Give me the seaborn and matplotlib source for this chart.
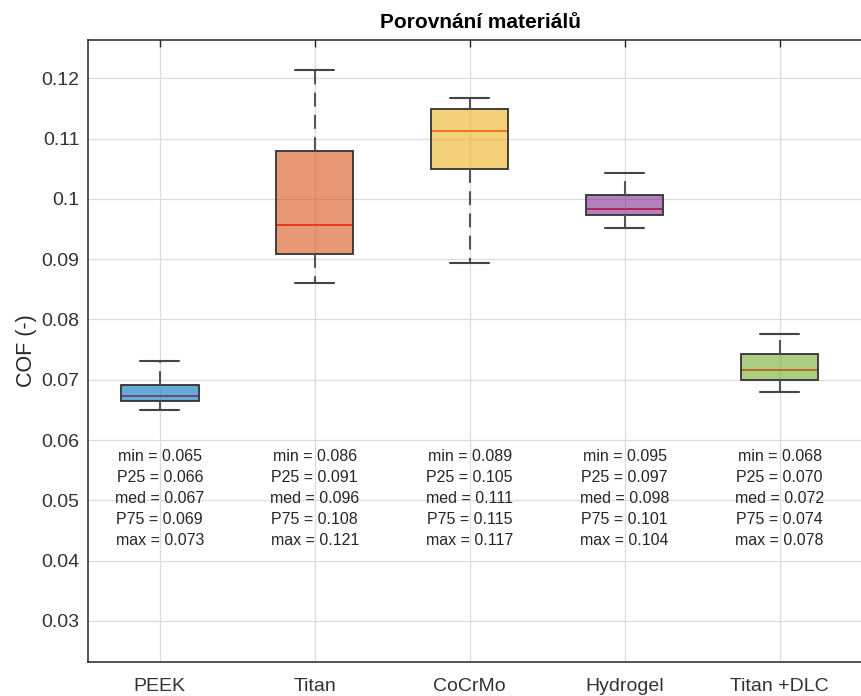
import numpy as np
import pandas as pd
import matplotlib
matplotlib.use("Agg")
import matplotlib.pyplot as plt
from matplotlib.colors import to_rgba
from matplotlib.ticker import FuncFormatter, MultipleLocator
import seaborn as sns

# Five-number summaries of the coefficient of friction per material
materials = ["PEEK", "Titan", "CoCrMo", "Hydrogel", "Titan +DLC"]
cof_min = [0.0650, 0.0860, 0.0894, 0.0951, 0.0679]
cof_p25 = [0.0664, 0.0908, 0.1050, 0.0974, 0.0700]
cof_med = [0.0673, 0.0957, 0.1113, 0.0984, 0.0716]
cof_p75 = [0.0691, 0.1080, 0.1149, 0.1006, 0.0743]
cof_max = [0.0731, 0.1214, 0.1168, 0.1043, 0.0776]

box_colors = ["#0072bd", "#d95319", "#edb120", "#7e2f8e", "#77ac30"]

rows = []
for i, m in enumerate(materials):
    for v in (cof_min[i], cof_p25[i], cof_med[i], cof_p75[i], cof_max[i]):
        rows.append({"material": m, "cof": v})
df = pd.DataFrame(rows)

sns.set_theme(style="white")
plt.rcParams["font.family"] = ["Liberation Sans", "DejaVu Sans"]
plt.rcParams["lines.scale_dashes"] = False

W, H = 862, 696
fig = plt.figure(figsize=(W / 100, H / 100), dpi=100)
ax = fig.add_axes([87.7 / W, 34.3 / H, (868 - 87.7) / W, (661.7 - 39.5) / H])

edge = "#333333"
sns.boxplot(
    data=df, x="material", y="cof", hue="material", order=materials,
    hue_order=materials, palette=box_colors, saturation=1, legend=False,
    width=0.5, whis=(0, 100), showfliers=False, linewidth=1.3,
    linecolor=edge, ax=ax,
    medianprops=dict(color="#ff0000", linewidth=1.3, zorder=1.9),
    whiskerprops=dict(color="#555555", linewidth=1.5, linestyle=(0, (10, 6))),
    capprops=dict(color="#444444", linewidth=1.5),
    boxprops=dict(zorder=2),
)

# translucent fills with opaque outlines
for patch, c in zip(ax.patches, box_colors):
    patch.set_facecolor(to_rgba(c, 0.6))
    patch.set_edgecolor(edge)

# summary statistics under each box
for i in range(len(materials)):
    lines = [
        f"min = {cof_min[i]:.3f}",
        f"P25 = {cof_p25[i]:.3f}",
        f"med = {cof_med[i]:.3f}",
        f"P75 = {cof_p75[i]:.3f}",
        f"max = {cof_max[i]:.3f}",
    ]
    for k, s in enumerate(lines):
        ax.text(i, 0.05725 - k * 0.00348, s, ha="center", va="center",
                fontsize=11.5, color="#262626", zorder=5)

ax.set_xlim(-0.465, 4.57)
ax.set_ylim(0.02325, 0.12643)
ax.yaxis.set_major_locator(MultipleLocator(0.01))
ax.yaxis.set_major_formatter(FuncFormatter(lambda v, p: f"{v:g}"))

ax.set_axisbelow(True)
ax.grid(True, color="#dcdcdc", linewidth=0.9)
for s in ax.spines.values():
    s.set_visible(True)
    s.set_color("#262626")
    s.set_linewidth(1.1)

ax.tick_params(axis="both", direction="in", length=5, width=1.0,
               color="#262626", labelcolor="#333333", labelsize=14,
               top=True, right=True)
ax.tick_params(axis="x", pad=12)
ax.tick_params(axis="y", pad=6)

ax.set_xlabel("")
ax.set_ylabel("COF (-)", fontsize=15.5, color="#262626", labelpad=3)

fig.text(481 / W, 1 - 28 / H, "Porovnání materiálů", ha="center",
         va="baseline", fontsize=15, fontweight="bold", color="#000000")

fig.savefig("out.png", dpi=100)
